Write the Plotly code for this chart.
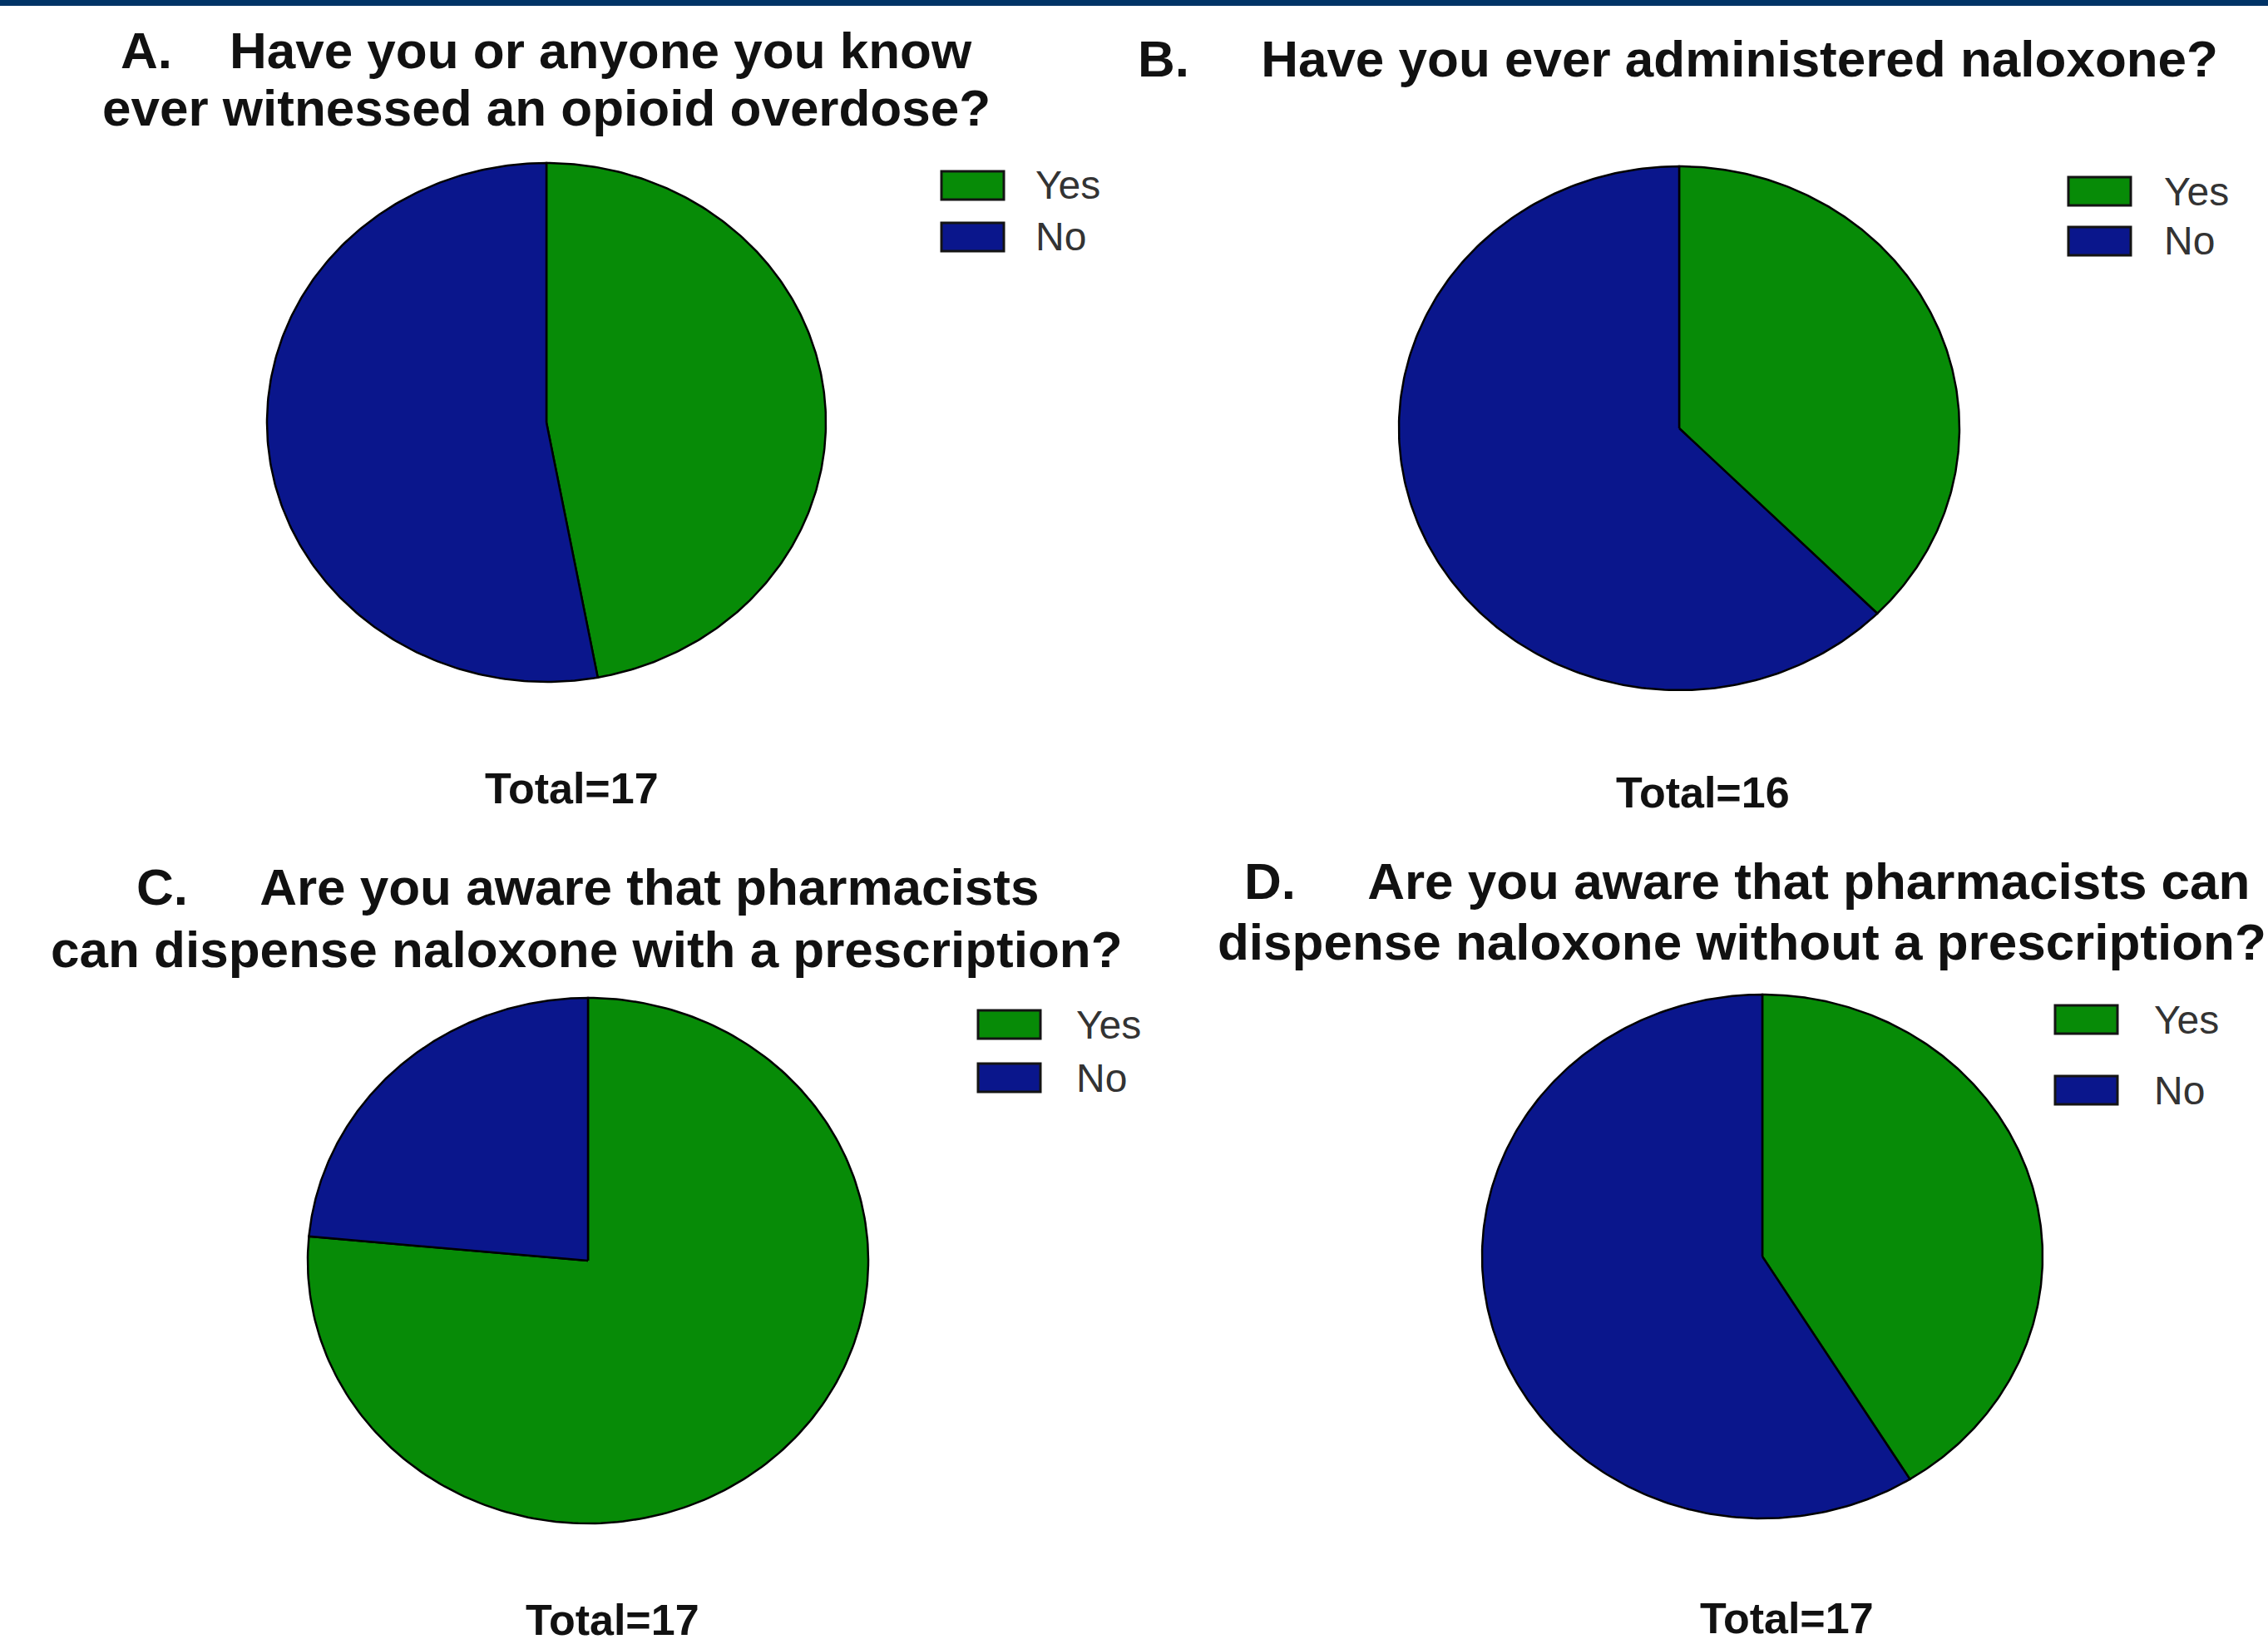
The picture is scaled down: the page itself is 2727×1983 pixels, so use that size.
import numpy as np
import plotly.graph_objects as go

W, H = 2727, 1983

# ---- data -------------------------------------------------------------
categories = ["Yes", "No"]
panel_letters = ["A.", "B.", "C.", "D."]
question_lines = [
    ["Have you or anyone you know", "ever witnessed an opioid overdose?"],
    ["Have you ever administered naloxone?"],
    ["Are you aware that pharmacists", "can dispense naloxone with a prescription?"],
    ["Are you aware that pharmacists can", "dispense naloxone without a prescription?"],
]
yes_counts = [8, 6, 13, 7]
no_counts = [9, 10, 4, 10]

# ---- styling / placement (pixels) ------------------------------------
slice_colors = ["#078b07", "#0a168c"]
pie_center = [(657, 508), (2019, 515), (707, 1516), (2119, 1511)]
pie_radius = [(336, 312), (337, 315), (337, 316), (337, 315)]
# per line: (x, y, xanchor)
title_pos = [
    [(657, 61, "center"), (657, 130, "center")],
    [(2017, 70, "center")],
    [(706, 1066, "center"), (705, 1141, "center")],
    [(1494, 1059, "left"), (1462, 1132, "left")],
]
letter_gap = [4, 5, 5, 5]
# legend: swatch left x, y centres for each entry, text x
legend_pos = [
    (1132, [223, 285], 1243),
    (2487, [230, 290], 2600),
    (1176, [1232, 1296], 1292),
    (2471, [1226, 1311], 2588),
]
total_pos = [(687, 948), (2047, 953), (736, 1948), (2148, 1946)]

TITLE_FONT = dict(family="Liberation Sans, Arial, sans-serif", size=62, color="#111111")
LEGEND_FONT = dict(family="Liberation Sans, Arial, sans-serif", size=48, color="#333333")
TOTAL_FONT = dict(family="Liberation Sans, Arial, sans-serif", size=52, color="#111111")
PAD = 1.03


def px_x(x):
    return x / W


def px_y(y):
    return 1 - y / H


fig = go.Figure()
layout_axes = {}
annotations = []
shapes = []

for i in range(4):
    k = "" if i == 0 else str(i + 1)
    values = [yes_counts[i], no_counts[i]]
    total = sum(values)
    cum = np.cumsum([0] + values) / total

    # wedges, clockwise from 12 o'clock
    for j, cat in enumerate(categories):
        theta = np.linspace(cum[j], cum[j + 1], 240) * 2 * np.pi
        xs = np.concatenate([[0], np.sin(theta), [0]])
        ys = np.concatenate([[0], np.cos(theta), [0]])
        fig.add_trace(go.Scatter(
            x=xs, y=ys, mode="lines", fill="toself",
            fillcolor=slice_colors[j],
            line=dict(color="#000000", width=2.5),
            name=cat, showlegend=False, hoverinfo="name",
            xaxis="x" + k, yaxis="y" + k,
        ))

    cx, cy = pie_center[i]
    rx, ry = pie_radius[i]
    layout_axes["xaxis" + k] = dict(
        domain=[px_x(cx - rx * PAD), px_x(cx + rx * PAD)],
        range=[-PAD, PAD], visible=False, fixedrange=True,
        anchor="y" + k,
    )
    layout_axes["yaxis" + k] = dict(
        domain=[px_y(cy + ry * PAD), px_y(cy - ry * PAD)],
        range=[-PAD, PAD], visible=False, fixedrange=True,
        anchor="x" + k,
    )

    # question title
    for li, line in enumerate(question_lines[i]):
        text = line
        if li == 0:
            text = panel_letters[i] + "\u00a0" * letter_gap[i] + line
        x, y, xa = title_pos[i][li]
        annotations.append(dict(
            text="<b>" + text + "</b>", x=px_x(x), y=px_y(y),
            xref="paper", yref="paper", xanchor=xa, yanchor="middle",
            showarrow=False, font=TITLE_FONT,
        ))

    # legend
    lx, lys, tx = legend_pos[i]
    for j, cat in enumerate(categories):
        ly = lys[j]
        shapes.append(dict(
            type="rect", xref="paper", yref="paper",
            x0=px_x(lx), x1=px_x(lx + 75),
            y0=px_y(ly + 17), y1=px_y(ly - 17),
            fillcolor=slice_colors[j], line=dict(color="#141414", width=3),
        ))
        annotations.append(dict(
            text=cat, x=px_x(tx), y=px_y(ly), xref="paper", yref="paper",
            xanchor="left", yanchor="middle", showarrow=False,
            font=LEGEND_FONT,
        ))

    # respondent total
    tx_, ty_ = total_pos[i]
    annotations.append(dict(
        text="<b>Total=%d</b>" % total, x=px_x(tx_), y=px_y(ty_),
        xref="paper", yref="paper", xanchor="center", yanchor="middle",
        showarrow=False, font=TOTAL_FONT,
    ))

# navy band across the top edge
shapes.append(dict(
    type="rect", xref="paper", yref="paper", x0=0, x1=1,
    y0=px_y(7), y1=1, fillcolor="#003366", line=dict(width=0), layer="above",
))

fig.update_layout(
    width=W, height=H,
    margin=dict(l=0, r=0, t=0, b=0),
    paper_bgcolor="#ffffff", plot_bgcolor="rgba(0,0,0,0)",
    showlegend=False,
    annotations=annotations, shapes=shapes,
    **layout_axes,
)

fig.write_html("out.html", config={"displayModeBar": False})
